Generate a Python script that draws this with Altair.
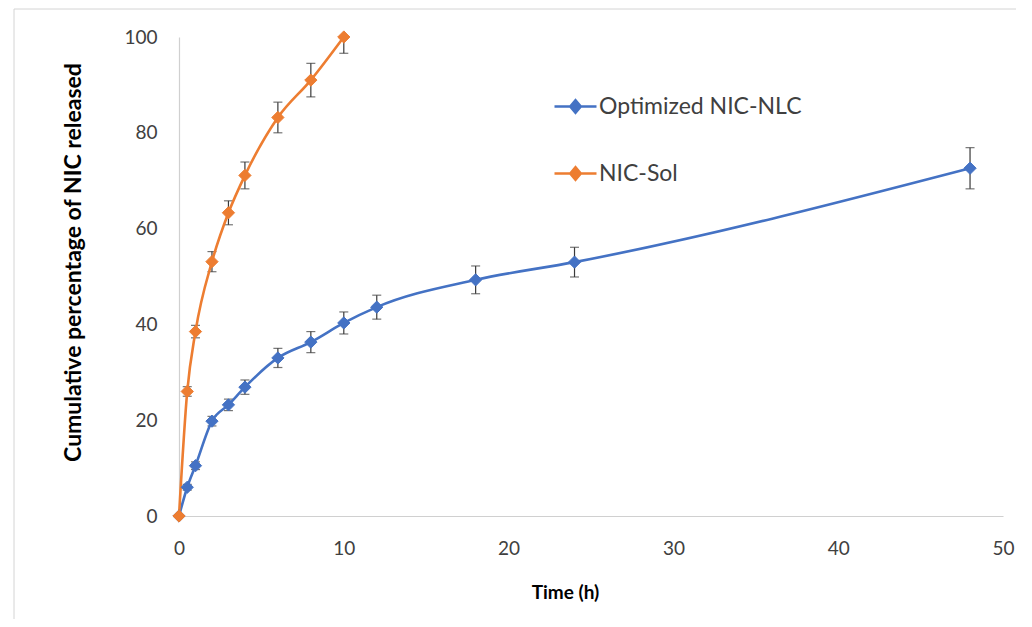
import altair as alt
import pandas as pd

# ---- data ----
series_names = ["Optimized NIC-NLC", "NIC-Sol"]
series_colors = ["#4472C4", "#ED7D31"]

time_nlc = [0, 0.5, 1, 2, 3, 4, 6, 8, 10, 12, 18, 24, 48]
release_nlc = [0, 6.0, 10.5, 19.8, 23.2, 26.9, 33.0, 36.3, 40.3, 43.6, 49.3, 53.0, 72.6]
err_nlc = [0, 0.6, 0.8, 1.0, 1.2, 1.5, 2.0, 2.2, 2.3, 2.5, 2.9, 3.1, 4.3]

time_sol = [0, 0.5, 1, 2, 3, 4, 6, 8, 10]
release_sol = [0, 26.0, 38.5, 53.1, 63.3, 71.1, 83.2, 91.0, 100.0]
err_sol = [0, 1.0, 1.3, 2.1, 2.5, 2.8, 3.2, 3.5, 3.4]

x_ticks = [0, 10, 20, 30, 40, 50]
y_ticks = [0, 20, 40, 60, 80, 100]

rows = []
for t, v, e in zip(time_nlc, release_nlc, err_nlc):
    rows.append({"series": series_names[0], "time": t, "value": v, "lo": v - e, "hi": v + e})
for t, v, e in zip(time_sol, release_sol, err_sol):
    rows.append({"series": series_names[1], "time": t, "value": v, "lo": v - e, "hi": v + e})
df = pd.DataFrame(rows)
err_df = df[df["hi"] > df["lo"]]

FONT = "Lato"

x_scale = alt.Scale(domain=[0, 50], nice=False, zero=True)
y_scale = alt.Scale(domain=[0, 100], nice=False)
color_scale = alt.Scale(domain=series_names, range=series_colors)

x_enc = alt.X(
    "time:Q", scale=x_scale,
    axis=alt.Axis(
        title="Time (h)", values=x_ticks, grid=False, ticks=False, labelFlush=False,
        domainColor="#d0d0d0", domainWidth=1.2,
        labelFont=FONT, labelFontSize=19, labelColor="#404040", labelPadding=23,
        titleFont=FONT, titleFontSize=19, titleFontWeight="bold", titleColor="#000000",
        titleX=386, titleY=76, titleAnchor="start", titleAlign="center", titleBaseline="middle",
    ),
)
y_enc = alt.Y(
    "value:Q", scale=y_scale,
    axis=alt.Axis(
        title="Cumulative percentage of NIC released", values=y_ticks, grid=False, ticks=False,
        labelFlush=False,
        domainColor="#d0d0d0", domainWidth=1.2,
        labelFont=FONT, labelFontSize=19, labelColor="#404040", labelPadding=22,
        titleFont=FONT, titleFontSize=23, titleFontWeight="bold", titleColor="#000000",
        titleX=-106, titleY=225, titleAngle=-90, titleAlign="center", titleBaseline="middle",
        titleAnchor="start",
    ),
)

legend = alt.Legend(
    title=None, orient="none", legendX=374, legendY=47, direction="vertical",
    symbolType="M-1,0H1M-0.25,0L0,-0.3L0.25,0L0,0.3Z",
    symbolSize=1764, symbolStrokeWidth=2.6, symbolOpacity=1,
    labelFont=FONT, labelFontSize=23, labelColor="#404040", labelOffset=1, labelLimit=400,
    rowPadding=32, padding=0,
)

frame = alt.Chart(pd.DataFrame({"k": [0]})).mark_rect(
    filled=False, fillOpacity=0, stroke="#d4d4d4", strokeWidth=1
).encode(
    x=alt.value(-165), x2=alt.value(844), y=alt.value(-28), y2=alt.value(640)
)

base = alt.Chart(df)

err_rule = alt.Chart(err_df).mark_rule(color="#3a3a3a", strokeWidth=1.2, clip=True).encode(
    x=alt.X("time:Q", scale=x_scale), y=alt.Y("lo:Q", scale=y_scale), y2="hi:Q"
)
cap_lo = alt.Chart(err_df).mark_tick(
    color="#3a3a3a", thickness=1.2, size=9, orient="horizontal", clip=True
).encode(x=alt.X("time:Q", scale=x_scale), y=alt.Y("lo:Q", scale=y_scale))
cap_hi = alt.Chart(err_df).mark_tick(
    color="#3a3a3a", thickness=1.2, size=9, orient="horizontal", clip=True
).encode(x=alt.X("time:Q", scale=x_scale), y=alt.Y("hi:Q", scale=y_scale))

lines = base.mark_line(strokeWidth=2.6, interpolate="monotone").encode(
    x=x_enc, y=y_enc,
    color=alt.Color("series:N", scale=color_scale, legend=legend, sort=series_names),
    detail="series:N",
)

points = base.mark_point(filled=True, shape="diamond", size=150, opacity=1, strokeWidth=1).encode(
    x=alt.X("time:Q", scale=x_scale),
    y=alt.Y("value:Q", scale=y_scale),
    color=alt.Color("series:N", scale=color_scale, legend=legend, sort=series_names),
    stroke=alt.Stroke("series:N", scale=color_scale, legend=legend, sort=series_names),
)

chart = alt.layer(frame, err_rule, cap_lo, cap_hi, lines, points).properties(
    width=824, height=479,
    background="white",
    autosize=alt.AutoSizeParams(type="none"),
    padding={"left": 171, "top": 29, "right": 13, "bottom": 103},
).configure_view(strokeWidth=0, stroke="transparent")

chart.save("out.html", embed_options={"renderer": "svg", "actions": False})
